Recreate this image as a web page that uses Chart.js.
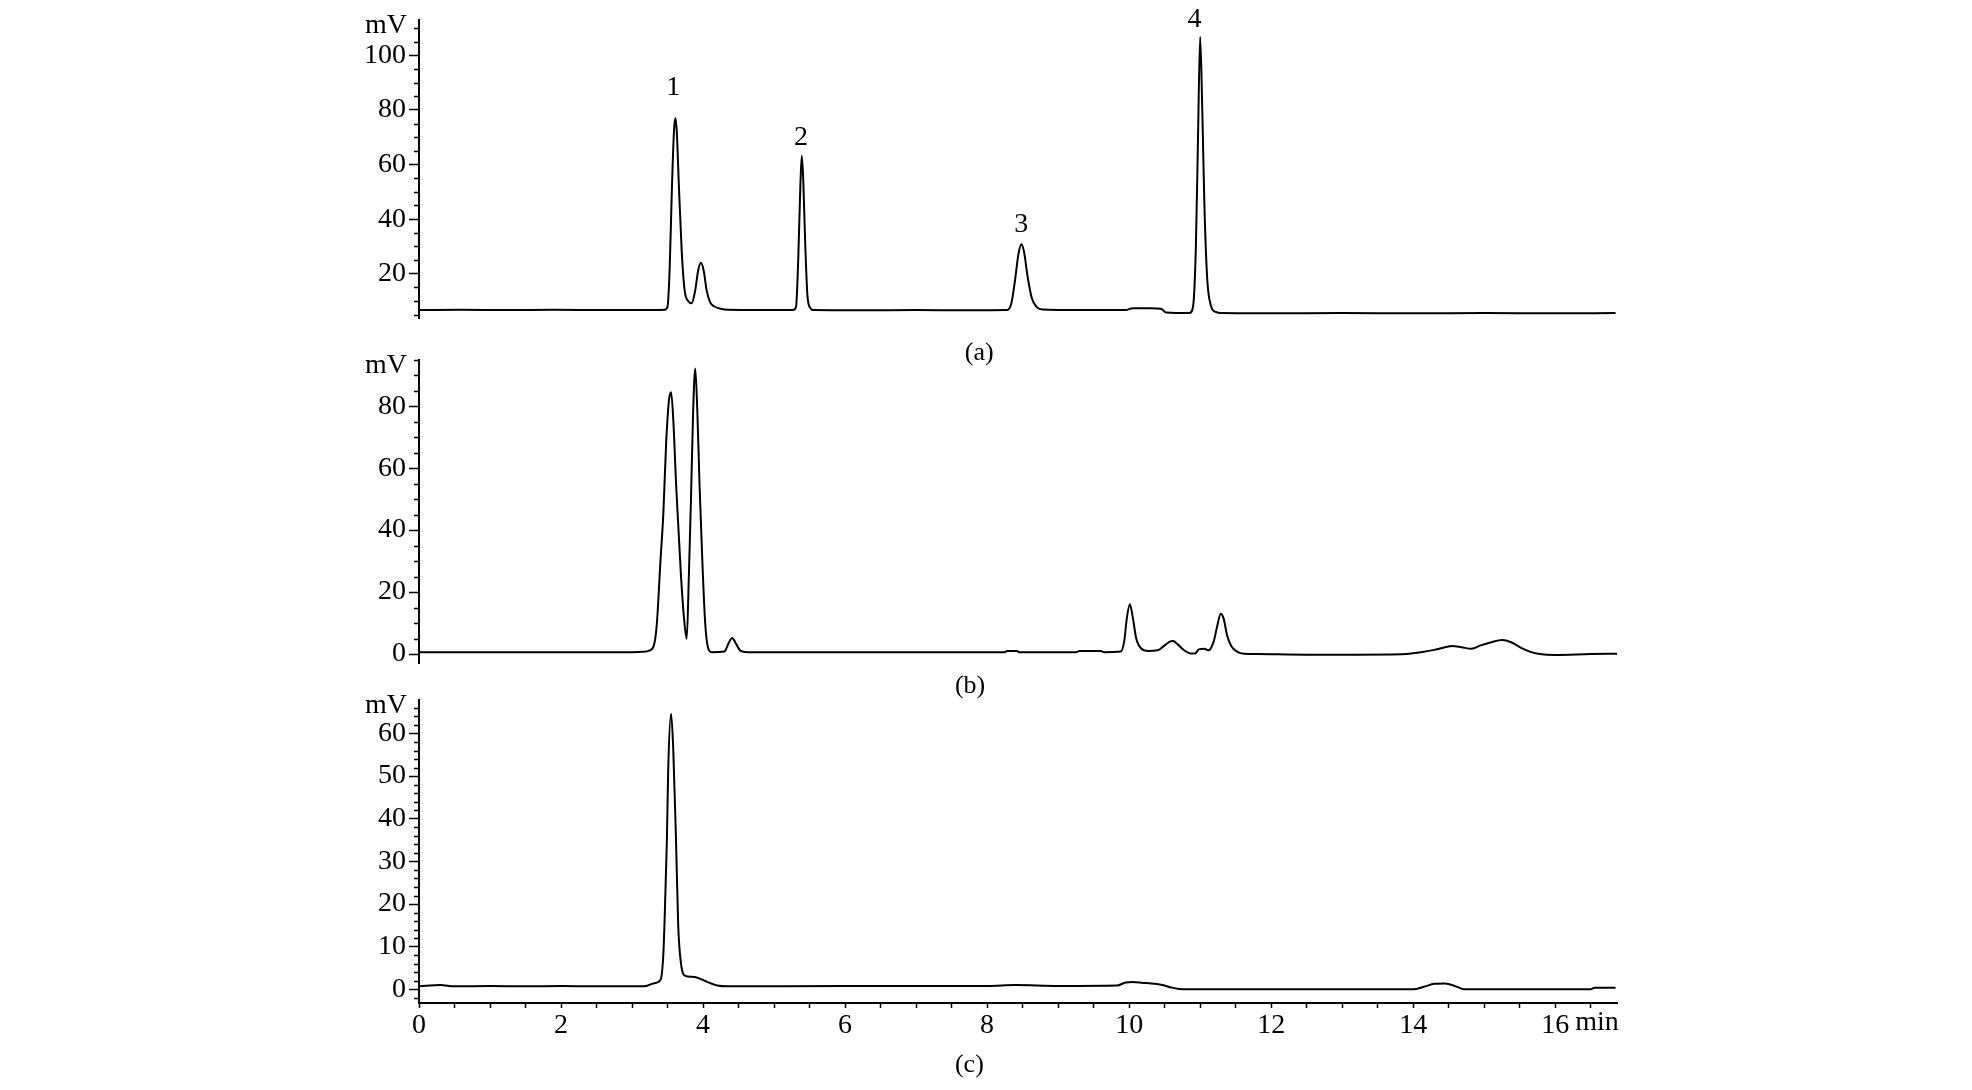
<!DOCTYPE html>
<html><head><meta charset="utf-8">
<script src="https://cdn.jsdelivr.net/npm/chart.js@4.4.0/dist/chart.umd.min.js"></script>
<style>
html,body{margin:0;padding:0;background:#fff;width:1972px;height:1090px;overflow:hidden}
canvas{position:absolute;left:0}
</style></head><body>
<canvas id="ca" width="1972" height="375" style="top:0px"></canvas>
<canvas id="cb" width="1972" height="370" style="top:340px"></canvas>
<canvas id="cc" width="1972" height="410" style="top:680px"></canvas>
<script>
// ---------- DATA (retention time in min, signal in mV) ----------
const timeA = [0,0.6,1.2,1.9,2.6,3.2,3.46,3.50,3.53,3.56,3.59,3.61,3.63,3.66,3.70,3.74,3.79,3.84,3.89,3.93,3.97,4.01,4.05,4.10,4.16,4.25,4.35,4.8,5.27,5.31,5.34,5.37,5.39,5.41,5.44,5.47,5.51,5.56,6.2,7.0,7.7,8.28,8.34,8.39,8.44,8.48,8.52,8.57,8.63,8.70,8.78,9.3,9.95,10.05,10.3,10.45,10.52,10.85,10.90,10.94,10.97,11.00,11.03,11.06,11.10,11.15,11.22,11.30,12.0,13.0,14.0,15.0,16.0,16.85];
const valueA = [6.7,6.8,6.7,6.8,6.7,6.7,6.8,8,22,50,72,77,72,52,28,14,10,9.2,14,21,24,21,14,9.5,8,7.2,6.8,6.7,6.7,8,25,52,63.2,55,30,12,7.5,6.7,6.6,6.7,6.6,6.7,9,17,27,30.8,28,19,11,7.8,6.9,6.7,6.7,7.4,7.4,7.2,5.8,5.6,8,30,70,106.8,80,45,18,8.5,6,5.6,5.5,5.6,5.5,5.6,5.5,5.6];

const timeB = [0,1.0,2.0,3.0,3.15,3.25,3.31,3.35,3.40,3.44,3.48,3.52,3.55,3.58,3.62,3.65,3.69,3.73,3.77,3.80,3.83,3.86,3.89,3.92,3.95,3.99,4.03,4.07,4.12,4.30,4.36,4.41,4.46,4.53,4.62,6.0,8.25,8.28,8.42,8.45,9.25,9.30,9.6,9.65,9.88,9.93,9.97,10.01,10.05,10.10,10.17,10.27,10.40,10.50,10.57,10.62,10.68,10.77,10.87,10.93,10.98,11.06,11.12,11.19,11.24,11.29,11.33,11.38,11.44,11.52,11.62,11.8,12.5,13.2,13.9,14.15,14.35,14.55,14.68,14.82,14.95,15.10,15.25,15.38,15.52,15.65,15.78,16.0,16.5,16.9];
const valueB = [0.6,0.6,0.6,0.6,0.7,1.2,3,10,30,45,68,82,84.5,76,55,42,25,12,4.9,25,50,78,92.2,78,55,30,10,2,0.6,0.8,3.5,5.2,3.5,1,0.6,0.6,0.6,1.0,1.0,0.6,0.6,1.0,1.0,0.6,0.8,4,12,16.1,12,5,1.8,1,1.2,2.8,4.0,4.2,3.2,1.3,0.2,0.2,1.5,1.7,1.2,4,9,13,11.5,6,2.5,0.8,0.1,0,-0.2,-0.2,0,0.7,1.6,2.6,2.2,1.7,2.8,3.8,4.5,3.8,2,0.7,0,-0.3,0,0.1];

const timeC = [0,0.3,0.5,1.0,1.5,2.0,2.5,3.0,3.20,3.30,3.40,3.44,3.46,3.49,3.51,3.55,3.58,3.62,3.65,3.69,3.73,3.79,3.91,4.05,4.20,4.35,6.0,8.0,8.4,9.0,9.83,9.95,10.05,10.2,10.31,10.45,10.6,10.7,10.85,12.0,13.0,14.0,14.15,14.3,14.45,14.6,14.72,16.5,16.55,16.85];
const valueC = [0.7,1.0,0.7,0.8,0.7,0.8,0.7,0.7,0.8,1.4,2.2,8,17,34.5,52,64.6,56.5,34.5,15,6,3.4,3.0,2.8,1.8,0.9,0.7,0.8,0.8,1.0,0.8,0.9,1.6,1.7,1.5,1.4,1.1,0.4,0.1,0,0,0,0,0.6,1.3,1.4,0.7,0,0,0.4,0.4];

// tick labels
const yTicksA = [20,40,60,80,100];
const yTicksB = [0,20,40,60,80];
const yTicksC = [0,10,20,30,40,50,60];
const xTickLabels = [0,2,4,6,8,10,12,14,16];
const xUnit = 'min';
const yUnit = 'mV';
// peak numbers in chromatogram (a)
const peakNamesA = ['1','2','3','4'];
const peakTimesA = [3.58,5.38,8.48,10.92];
const peakLabelValA = [88,69.7,38,113];

// ---------- CHART ----------
const FONT = "'Liberation Serif', 'Times New Roman', serif";
const XMAX = 16.87;

function pts(t, v){ return t.map((x,i)=>({x:x, y:v[i]})); }

function makeChart(id, t, v, cfg){
  const xMinor = [];
  for (let k = 0; k <= 33; k++) xMinor.push(k*0.5);
  const overlay = {
    id:'overlay'+id,
    afterDraw(chart){
      const ctx = chart.ctx, ca = chart.chartArea, ys = chart.scales.y, xs = chart.scales.x;
      ctx.save();
      ctx.strokeStyle = '#000'; ctx.lineWidth = 1.5;
      const st = cfg.minorStep;
      for (let val = Math.ceil(cfg.yMin/st)*st; val <= cfg.yMax + 1e-9; val += st){
        if (cfg.yTicks.some(m => Math.abs(m-val) < 1e-6)) continue;
        const py = Math.round(ys.getPixelForValue(val)) + 0.5;
        ctx.beginPath(); ctx.moveTo(ca.left-5, py); ctx.lineTo(ca.left, py); ctx.stroke();
      }
      ctx.fillStyle = '#000';
      ctx.font = '28px ' + FONT;
      ctx.textAlign = 'right'; ctx.textBaseline = 'middle';
      ctx.fillText(yUnit, ca.left - 12, ca.top + 6);
      ctx.font = '26px ' + FONT;
      ctx.textAlign = 'center'; ctx.textBaseline = 'middle';
      ctx.fillText(cfg.label, xs.getPixelForValue(cfg.labelT), ca.bottom + cfg.labelDy);
      if (cfg.peaks){
        ctx.font = '28px ' + FONT;
        cfg.peaks.names.forEach((n,i)=>{
          ctx.fillText(n, xs.getPixelForValue(cfg.peaks.t[i]), ys.getPixelForValue(cfg.peaks.v[i]));
        });
      }
      if (cfg.showX){
        ctx.font = '28px ' + FONT;
        ctx.textAlign = 'left'; ctx.textBaseline = 'top';
        ctx.fillText(xUnit, xs.getPixelForValue(16) + 20, ca.bottom + 6);
      }
      ctx.restore();
    }
  };
  return new Chart(document.getElementById(id), {
    type:'line',
    data:{datasets:[{data:pts(t,v), borderColor:'#000', borderWidth:2, pointRadius:0, fill:false,
      cubicInterpolationMode:'monotone'}]},
    options:{
      responsive:false, animation:false, devicePixelRatio:1,
      layout:{padding:{top:cfg.padTop, bottom:cfg.padBottom, left:0, right:355}},
      plugins:{legend:{display:false}, tooltip:{enabled:false}, title:{display:false}},
      scales:{
        x:{type:'linear', min:0, max:XMAX, display:cfg.showX,
          afterBuildTicks:s=>{ s.ticks = xMinor.map(x=>({value:x})); },
          afterFit:s=>{ s.height = cfg.showX ? 87 : 0; },
          grid:{drawOnChartArea:false, drawTicks:true, tickLength:5, tickColor:'#000', tickWidth:1.5},
          border:{display:true, color:'#000', width:2},
          ticks:{autoSkip:false, maxRotation:0, minRotation:0, padding:1, color:'#000',
            font:{family:FONT, size:28},
            callback:(val)=> xTickLabels.some(m=>Math.abs(m-val)<1e-6) ? String(val) : ''}
        },
        y:{type:'linear', min:cfg.yMin, max:cfg.yMax,
          afterBuildTicks:s=>{ s.ticks = cfg.yTicks.map(x=>({value:x})); },
          afterFit:s=>{ s.width = 419; },
          grid:{drawOnChartArea:false, drawTicks:true, tickLength:10, tickColor:'#000', tickWidth:1.5},
          border:{display:true, color:'#000', width:2},
          ticks:{padding:3, color:'#000', font:{family:FONT, size:28}}
        }
      }
    },
    plugins:[overlay]
  });
}

makeChart('ca', timeA, valueA, {yMin:3.8, yMax:113, yTicks:yTicksA, minorStep:5, padTop:15, padBottom:57,
  showX:false, label:'(a)', labelT:7.89, labelDy:35,
  peaks:{names:peakNamesA, t:peakTimesA, v:peakLabelValA}});
makeChart('cb', timeB, valueB, {yMin:-2.9, yMax:95, yTicks:yTicksB, minorStep:5, padTop:17, padBottom:47,
  showX:false, label:'(b)', labelT:7.76, labelDy:23});
makeChart('cc', timeC, valueC, {yMin:-3.2, yMax:67.9, yTicks:yTicksC, minorStep:2, padTop:16, padBottom:0,
  showX:true, label:'(c)', labelT:7.75, labelDy:62});
</script>
</body></html>
